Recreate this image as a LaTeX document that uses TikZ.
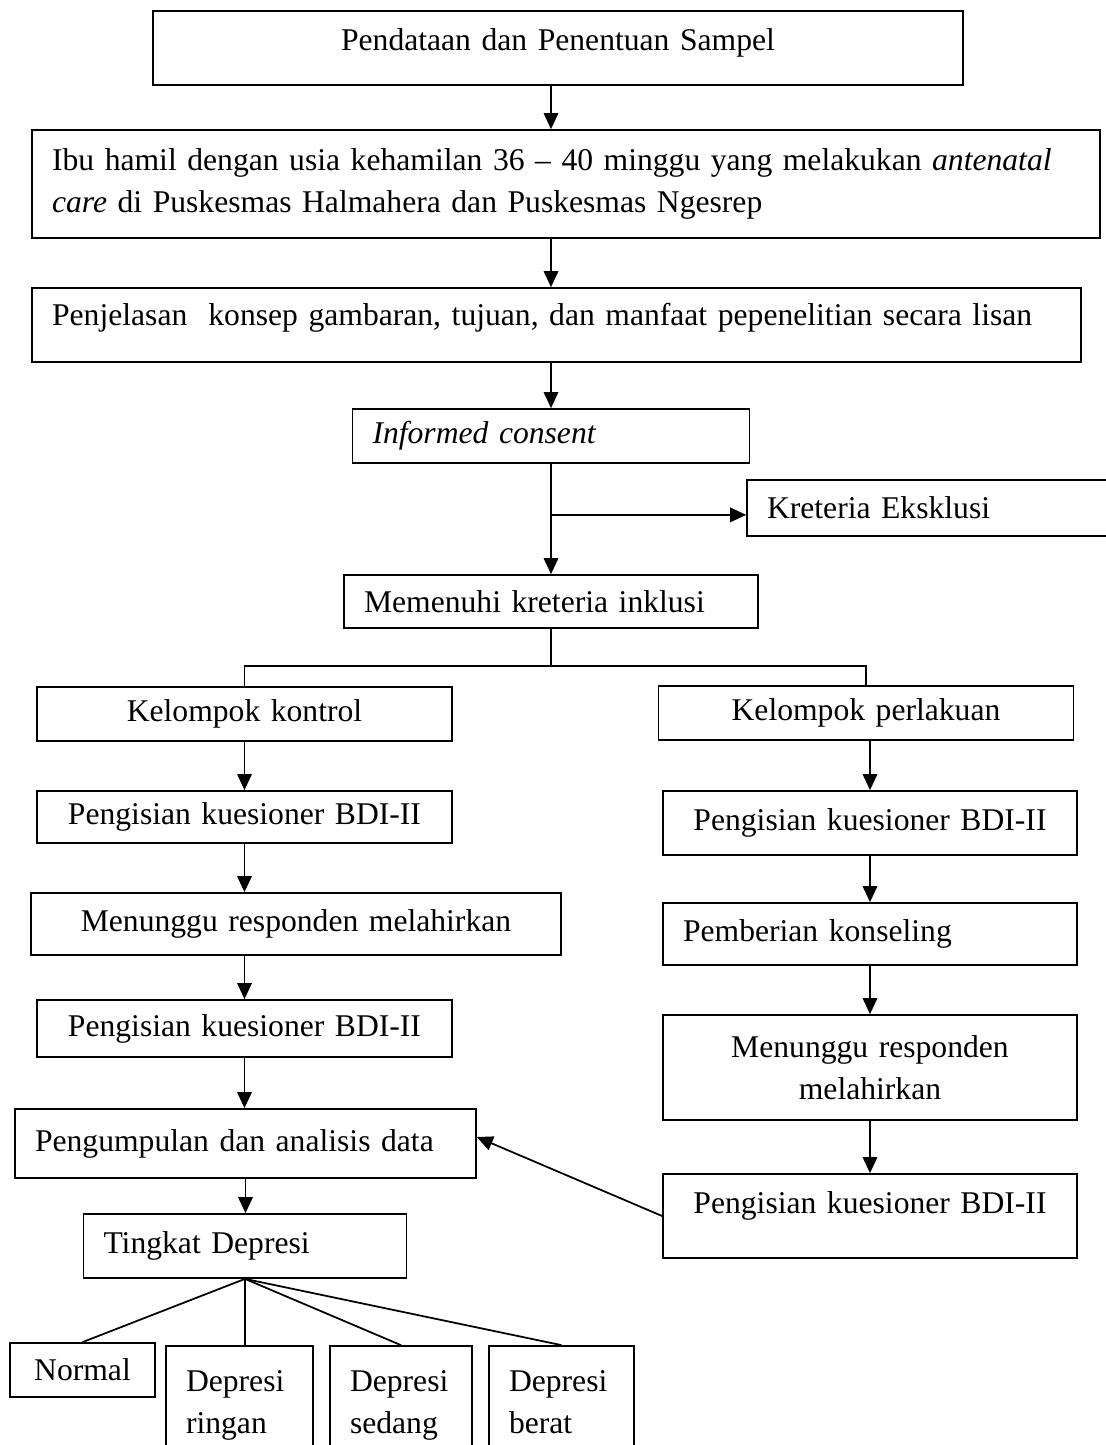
\documentclass[tikz,border=0pt]{standalone}
\usepackage{fontspec}
\setmainfont{Liberation Serif}
\usetikzlibrary{calc}
\usetikzlibrary{positioning}
\usetikzlibrary{arrows.meta}

\begin{document}
\begin{tikzpicture}[%
  >={Triangle[length=0.32cm,width=0.29cm]},
  x=0.02cm,
  y=-0.02cm,
  line width=1pt,
  box/.style={draw, rectangle, inner xsep=0.4cm, inner ysep=0pt,
    font=\fontsize{18}{24}\selectfont},
  boxl/.style={box, align=left},
  boxc/.style={box, align=center},
]

  \useasboundingbox (0,0) rectangle (1106,1445);

  % main column
  \node[boxc, text width=15.4cm, minimum height=1.48cm, text depth=0.34cm] (sampel) at (558,48)
    {Pendataan dan Penentuan Sampel};
  \node[boxl, text width=20.56cm, minimum height=2.16cm] (ibu) at (566,184)
    {Ibu hamil dengan usia kehamilan 36 -- 40 minggu yang melakukan \textit{antenatal}\\
     \textit{care} di Puskesmas Halmahera dan Puskesmas Ngesrep};
  \node[boxl, text width=20.18cm, minimum height=1.48cm, text depth=0.42cm] (jelas) at (556.5,325)
    {Penjelasan\ \ konsep gambaran, tujuan, dan manfaat pepenelitian secara lisan};
  \node[boxl, text width=7.14cm, minimum height=1.08cm] (consent) at (551,436)
    {\textit{Informed consent}};
  \node[boxl, text width=6.76cm, minimum height=1.12cm] (eksklusi) at (936,508)
    {Kreteria Eksklusi};
  \node[boxl, text width=7.48cm, minimum height=1.06cm] (inklusi) at (551,601.5)
    {Memenuhi kreteria inklusi};

  % kelompok kontrol
  \node[boxc, text width=7.5cm, minimum height=1.08cm] (kontrol) at (244.5,714)
    {Kelompok kontrol};
  \node[boxc, text width=7.5cm, minimum height=1.04cm] (bdiA) at (244.5,817)
    {Pengisian kuesioner BDI-II};
  \node[boxc, text width=9.8cm, minimum height=1.24cm] (tungguA) at (296,924)
    {Menunggu responden melahirkan};
  \node[boxc, text width=7.5cm, minimum height=1.14cm] (bdiB) at (244.5,1028.5)
    {Pengisian kuesioner BDI-II};
  \node[boxl, text width=8.42cm, minimum height=1.38cm] (analisis) at (245.5,1143.5)
    {Pengumpulan dan analisis data};
  \node[boxl, text width=5.66cm, minimum height=1.28cm] (tingkat) at (245,1246)
    {Tingkat Depresi};

  % kelompok perlakuan
  \node[boxc, text width=7.5cm, minimum height=1.08cm] (perlakuan) at (866,713)
    {Kelompok perlakuan};
  \node[boxc, text width=7.48cm, minimum height=1.28cm] (bdiC) at (870,823)
    {Pengisian kuesioner BDI-II};
  \node[boxl, text width=7.48cm, minimum height=1.24cm] (konseling) at (870,934)
    {Pemberian konseling};
  \node[boxc, text width=7.48cm, minimum height=2.1cm] (tungguB) at (870,1067.5)
    {Menunggu responden\\ melahirkan};
  \node[boxc, text width=7.48cm, minimum height=1.68cm, text depth=0.54cm] (bdiD) at (870,1216)
    {Pengisian kuesioner BDI-II};

  % tingkat depresi
  \node[boxc, text width=2.1cm, minimum height=1.08cm] (normal) at (82.5,1370) {Normal};
  \node[boxl, text width=2.14cm, minimum height=2.48cm] (ringan) at (239.5,1408) {Depresi\\ ringan\strut};
  \node[boxl, text width=2.04cm, minimum height=2.48cm] (sedang) at (401,1408) {Depresi\\ sedang\strut};
  \node[boxl, text width=2.1cm, minimum height=2.48cm] (berat) at (561.5,1408) {Depresi\\ berat\strut};

  \coordinate (excl) at ($(consent.south)+(0,51)$);
  \coordinate (split) at ($(inklusi.south)+(0,37)$);

  \draw[->] (sampel.south -| consent.north) -- (ibu.north -| consent.north);
  \draw[->] (ibu.south -| consent.north) -- (jelas.north -| consent.north);
  \draw[->] (jelas.south -| consent.north) -- (consent.north);
  \draw[->] (consent.south) -- (inklusi.north);
  \draw[->] (excl) -- (excl -| eksklusi.west);

  \draw (inklusi.south) -- (split);
  \draw (kontrol.north) -- (kontrol.north |- split) -- (perlakuan.north |- split) -- (perlakuan.north);

  \draw[->] (kontrol.south) -- (bdiA.north);
  \draw[->] (bdiA.south) -- (bdiA.south |- tungguA.north);
  \draw[->] (bdiB.north |- tungguA.south) -- (bdiB.north);
  \draw[->] (bdiB.south) -- (bdiB.south |- analisis.north);
  \draw[->] (analisis.south) -- (analisis.south |- tingkat.north);

  \draw[->] (perlakuan.south -| bdiC.north) -- (bdiC.north);
  \draw[->] (bdiC.south) -- (konseling.north);
  \draw[->] (konseling.south) -- (tungguB.north);
  \draw[->] (tungguB.south) -- (bdiD.north);
  \draw[->] (bdiD.west) -- ([yshift=0.13cm]analisis.east);

  \draw (tingkat.south) -- (normal.north);
  \draw (tingkat.south) -- (tingkat.south |- ringan.north);
  \draw (tingkat.south) -- (sedang.north);
  \draw (tingkat.south) -- (berat.north);

\end{tikzpicture}
\end{document}
